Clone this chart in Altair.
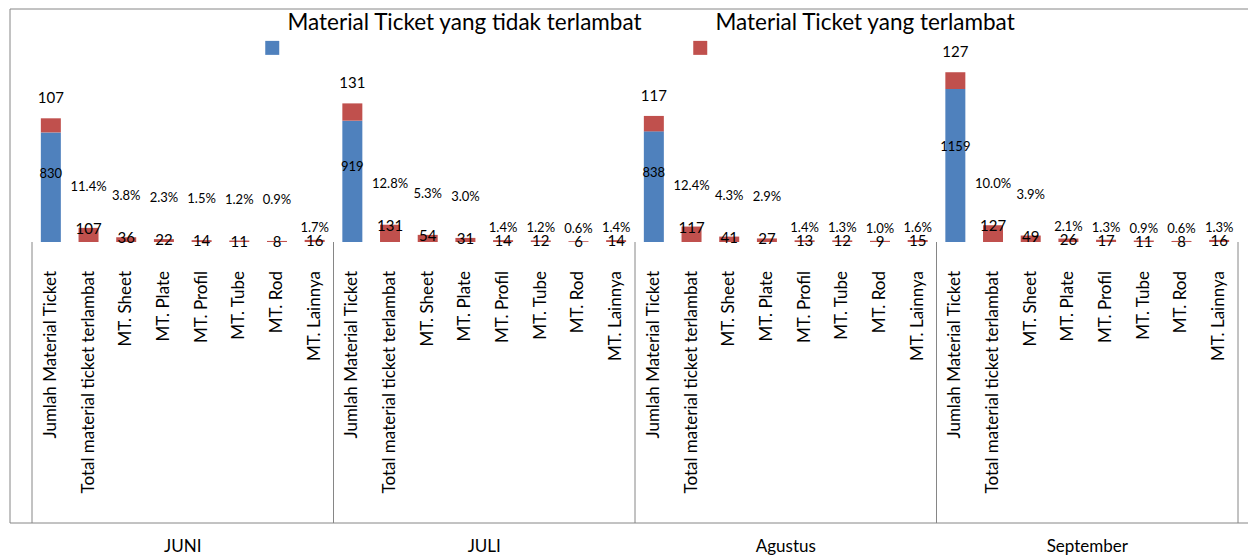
import altair as alt
import pandas as pd

# ---------------- data ----------------
months = ["JUNI", "JULI", "Agustus", "September"]
categories = [
    "Jumlah Material Ticket",
    "Total material ticket terlambat",
    "MT. Sheet",
    "MT. Plate",
    "MT. Profil",
    "MT. Tube",
    "MT. Rod",
    "MT. Lainnya",
]
series_names = ["Material Ticket yang tidak terlambat", "Material Ticket yang terlambat"]
series_colors = ["#4F81BD", "#C0504D"]

# blue part of "Jumlah Material Ticket"
tidak_terlambat = [830, 919, 838, 1159]

# red values: Jumlah (late part), Total terlambat, Sheet, Plate, Profil, Tube, Rod, Lainnya
terlambat_juni = [107, 107, 36, 22, 14, 11, 8, 16]
terlambat_juli = [131, 131, 54, 31, 14, 12, 6, 14]
terlambat_agustus = [117, 117, 41, 27, 13, 12, 9, 15]
terlambat_september = [127, 127, 49, 26, 17, 11, 8, 16]

# percentage labels for categories 2..8
pct_juni = ["11.4%", "3.8%", "2.3%", "1.5%", "1.2%", "0.9%", "1.7%"]
pct_juli = ["12.8%", "5.3%", "3.0%", "1.4%", "1.2%", "0.6%", "1.4%"]
pct_agustus = ["12.4%", "4.3%", "2.9%", "1.4%", "1.3%", "1.0%", "1.6%"]
pct_september = ["10.0%", "3.9%", "2.1%", "1.3%", "0.9%", "0.6%", "1.3%"]

# whether the percentage label was lifted high above its bar
pct_raised_juni = [True, True, True, True, True, True, False]
pct_raised_juli = [True, True, True, False, False, False, False]
pct_raised_agustus = [True, True, True, False, False, False, False]
pct_raised_september = [True, True, False, False, False, False, False]

terlambat_all = [terlambat_juni, terlambat_juli, terlambat_agustus, terlambat_september]
pct_all = [pct_juni, pct_juli, pct_agustus, pct_september]
raised_all = [pct_raised_juni, pct_raised_juli, pct_raised_agustus, pct_raised_september]

# ---------------- tables ----------------
ncat = len(categories)
bar_rows, blue_lbl, top_lbl, val_lbl, pct_lbl, cat_lbl = [], [], [], [], [], []
for i, m in enumerate(months):
    reds = terlambat_all[i]
    for j, c in enumerate(categories):
        pos = i * ncat + j + 0.5
        cat_lbl.append(dict(pos=pos, t=c))
        if j == 0:
            b = tidak_terlambat[i]
            bar_rows.append(dict(pos=pos, series=series_names[0], y0=0, y1=b))
            bar_rows.append(dict(pos=pos, series=series_names[1], y0=b, y1=b + reds[0]))
            blue_lbl.append(dict(pos=pos, y=b * 0.62, t=str(b)))
            top_lbl.append(dict(pos=pos, y=b + reds[0], t=str(reds[0])))
        else:
            v = reds[j]
            bar_rows.append(dict(pos=pos, series=series_names[1], y0=0, y1=v))
            val_lbl.append(dict(pos=pos, y=v, t=str(v)))
            pct_lbl.append(dict(pos=pos, y=v, t=pct_all[i][j - 1], raised=raised_all[i][j - 1]))

bars_df = pd.DataFrame(bar_rows)
blue_df = pd.DataFrame(blue_lbl)
top_df = pd.DataFrame(top_lbl)
val_df = pd.DataFrame(val_lbl)
pct_df = pd.DataFrame(pct_lbl)
cat_df = pd.DataFrame(cat_lbl)
month_df = pd.DataFrame(dict(month=months, pos=[i * ncat + ncat / 2 for i in range(len(months))]))
bound_df = pd.DataFrame(dict(b=[i * ncat for i in range(len(months) + 1)]))
one_df = pd.DataFrame(dict(k=[0]))

W, H = 1206, 233
FONT = "Lato"
LINE = "#868686"

xscale = alt.Scale(domain=[0, ncat * len(months)], nice=False, zero=False, padding=0)
yscale = alt.Scale(domain=[0, 1765], nice=False)

x_axis = alt.X(
    "pos:Q",
    scale=xscale,
    axis=alt.Axis(
        labels=False,
        ticks=False,
        grid=False,
        domainColor=LINE,
        domainWidth=1,
        title=None,
    ),
)
x_plain = alt.X("pos:Q", scale=xscale, axis=None)
y_plain = lambda f: alt.Y(f, scale=yscale, axis=None)

bars = alt.Chart(bars_df).mark_bar(width=20).encode(
    x=x_axis,
    y=y_plain("y0:Q"),
    y2="y1:Q",
    color=alt.Color(
        "series:N",
        scale=alt.Scale(domain=series_names, range=series_colors),
        legend=alt.Legend(
            title=None,
            orient="none",
            legendX=229,
            legendY=3,
            direction="horizontal",
            symbolType="M-1,2.5L1,2.5L1,4.5L-1,4.5Z",
            symbolSize=196,
            symbolStrokeWidth=0,
            symbolOpacity=1,
            labelFont=FONT,
            labelFontSize=22.5,
            labelColor="#000000",
            labelOffset=4,
            labelLimit=800,
            columnPadding=46,
            padding=0,
        ),
    ),
)

cat_text = alt.Chart(cat_df).mark_text(
    font=FONT, fontSize=17, color="#000", angle=270, align="right", baseline="middle"
).encode(x=x_plain, y=alt.value(H + 29), text="t:N")

blue_text = alt.Chart(blue_df).mark_text(font=FONT, fontSize=13, color="#000", baseline="middle").encode(
    x=x_plain, y=y_plain("y:Q"), text="t:N"
)
top_text = alt.Chart(top_df).mark_text(font=FONT, fontSize=15, color="#000", baseline="middle", dy=-20).encode(
    x=x_plain, y=y_plain("y:Q"), text="t:N"
)
val_text = alt.Chart(val_df).mark_text(font=FONT, fontSize=15, color="#000", baseline="middle", dy=1).encode(
    x=x_plain, y=y_plain("y:Q"), text="t:N"
)
pct_hi = alt.Chart(pct_df).transform_filter("datum.raised").mark_text(
    font=FONT, fontSize=13, color="#000", baseline="middle", dy=-41
).encode(x=x_plain, y=y_plain("y:Q"), text="t:N")
pct_lo = alt.Chart(pct_df).transform_filter("!datum.raised").mark_text(
    font=FONT, fontSize=13, color="#000", baseline="middle", dy=-12
).encode(x=x_plain, y=y_plain("y:Q"), text="t:N")

month_text = alt.Chart(month_df).mark_text(font=FONT, fontSize=17, color="#000", baseline="middle").encode(
    x=x_plain, y=alt.value(538), text="month:N"
)

separators = alt.Chart(bound_df).mark_rule(color=LINE, strokeWidth=1).encode(
    x=alt.X("b:Q", scale=xscale, axis=None), y=alt.value(H), y2=alt.value(514)
)
frame_left = alt.Chart(one_df).mark_rule(color=LINE, strokeWidth=1).encode(
    x=alt.value(-22), y=alt.value(0), y2=alt.value(514)
)
frame_top = alt.Chart(one_df).mark_rule(color=LINE, strokeWidth=1).encode(
    x=alt.value(-22), x2=alt.value(W + 10), y=alt.value(0)
)
frame_bottom = alt.Chart(one_df).mark_rule(color=LINE, strokeWidth=1).encode(
    x=alt.value(-22), x2=alt.value(W + 10), y=alt.value(514)
)

chart = (
    alt.layer(
        bars, cat_text, blue_text, top_text, val_text, pct_hi, pct_lo, month_text,
        separators, frame_left, frame_top, frame_bottom,
    )
    .properties(
        width=W,
        height=H,
        padding={"left": 24, "top": 1, "right": 10, "bottom": 322},
        autosize=alt.AutoSizeParams(type="none"),
        background="white",
    )
    .configure_view(stroke=None)
)

chart.save("out.html", embed_options={"renderer": "svg", "actions": False})
